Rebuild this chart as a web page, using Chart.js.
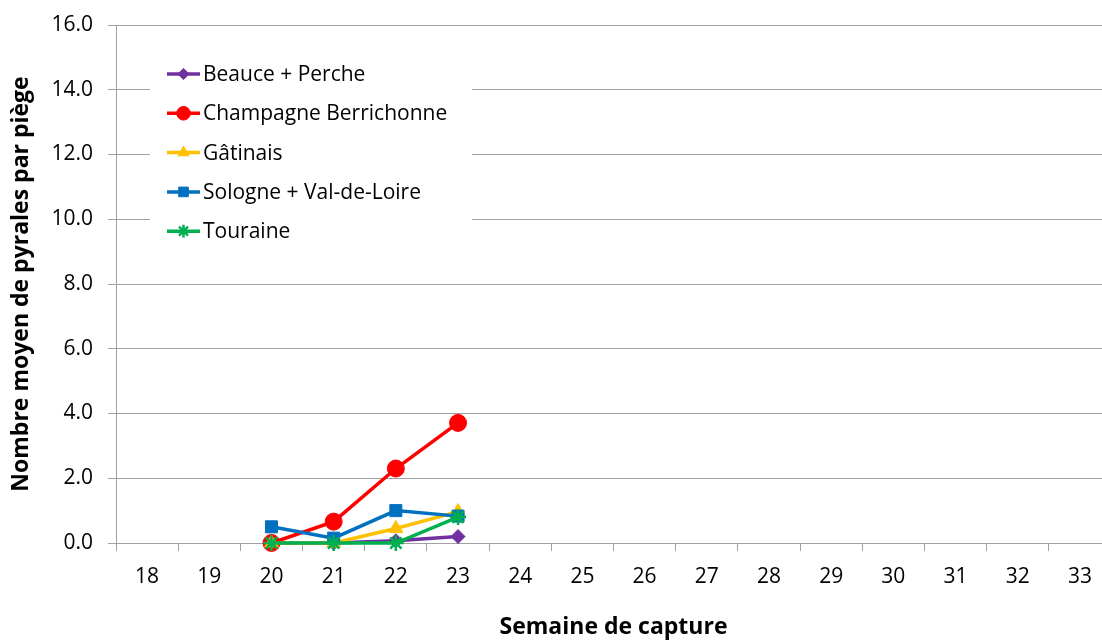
<!DOCTYPE html>
<html>
<head>
<meta charset="utf-8">
<script src="https://cdn.jsdelivr.net/npm/chart.js@4.4.0/dist/chart.umd.min.js"></script>
<style>
	html, body { margin: 0; padding: 0; background: #fff; overflow: hidden; }
	#wrap { width: 1112px; height: 644px; }
</style>
</head>
<body>
<div id="wrap"><canvas id="myChart" width="1112" height="644" style="width:1112px;height:644px"></canvas></div>
<script>
	// semaines de capture
	var semaines = ["18", "19", "20", "21", "22", "23", "24", "25", "26", "27", "28", "29", "30", "31", "32", "33"];
	var yTicks = [0, 2, 4, 6, 8, 10, 12, 14, 16];

	// nombre moyen de pyrales par piège (null = pas encore de relevé)
	var beauce    = [null, null, 0, 0, 0.07, 0.2];
	var champagne = [null, null, 0, 0.66, 2.3, 3.71];
	var gatinais  = [null, null, 0, 0, 0.45, 0.97];
	var sologne   = [null, null, 0.5, 0.15, 1.0, 0.83];
	var touraine  = [null, null, 0, 0, 0, 0.8];

	var noms = ["Beauce + Perche", "Champagne Berrichonne", "Gâtinais", "Sologne + Val-de-Loire", "Touraine"];
	var couleurs = ["#7030A0", "#FF0000", "#FFC000", "#0070C0", "#00B050"];
	var marqueurs = ["rectRot", "circle", "triangle", "rect", "star"];
	var tailles = [7, 8.5, 8, 8.5, 8];
	var series = [beauce, champagne, gatinais, sologne, touraine];

	var police = "'Open Sans', 'DejaVu Sans', sans-serif";

	var datasets = series.map(function(valeurs, i){
		return {
			label: noms[i],
			data: valeurs,
			borderColor: couleurs[i],
			backgroundColor: couleurs[i],
			pointBackgroundColor: couleurs[i],
			pointBorderColor: couleurs[i],
			pointStyle: marqueurs[i],
			pointRadius: tailles[i],
			pointBorderWidth: marqueurs[i] == "star" ? 2.5 : 1,
			borderWidth: 3.5,
			tension: 0,
			clip: false,
			spanGaps: false,
			order: 5 - i
		};
	});

	// legende dessinee dans la zone du graphique
	var legendeInterne = {
		id: 'legendeInterne',
		afterDatasetsDraw: function(chart){
			var c = chart.ctx;
			c.save();
			c.fillStyle = "#fff";
			c.fillRect(150, 55, 322, 193);
			c.font = "21px " + police;
			c.textBaseline = "middle";
			for (var i = 0; i < noms.length; i++) {
				var y = 74 + i * 39.3;
				c.strokeStyle = couleurs[i];
				c.lineWidth = 3.5;
				c.beginPath();
				c.moveTo(167, y);
				c.lineTo(200, y);
				c.stroke();
				c.fillStyle = couleurs[i];
				c.lineWidth = marqueurs[i] == "star" ? 2.5 : 1;
				Chart.helpers.drawPoint(c, {pointStyle: marqueurs[i], radius: tailles[i] * 0.8, borderWidth: c.lineWidth}, 183.5, y);
				c.fillStyle = "#000";
				c.fillText(noms[i], 203, y + 1);
			}
			c.restore();
		}
	};

	var ctx = document.getElementById("myChart");
	var myChart = new Chart(ctx, {
		type: 'line',
		data: {
			labels: semaines,
			datasets: datasets
		},
		plugins: [legendeInterne],
		options: {
			responsive: false,
			animation: false,
			layout: { autoPadding: false, padding: { top: 25, left: 0, right: 1, bottom: 0 } },
			plugins: {
				legend: { display: false },
				tooltip: { enabled: false }
			},
			scales: {
				x: {
					offset: true,
					afterFit: function(s){ s.height = 101; },
					grid: { offset: true, drawOnChartArea: false, tickLength: 8, color: "#A0A0A0", tickColor: "#A0A0A0" },
					border: { color: "#A0A0A0", width: 1 },
					ticks: { color: "#000", padding: 13, font: { family: police, size: 21 }, maxRotation: 0 },
					title: {
						display: true,
						text: "Semaine de capture",
						color: "#000",
						font: { family: police, size: 23, weight: 'bold' },
						padding: { top: 0, bottom: 3 }
					}
				},
				y: {
					min: 0,
					max: 16,
					afterFit: function(s){ s.width = 116; },
					afterBuildTicks: function(s){ s.ticks = yTicks.map(function(v){ return {value: v}; }); },
					grid: { color: "#A0A0A0", tickColor: "#A0A0A0", tickLength: 8 },
					border: { color: "#A0A0A0", width: 1 },
					ticks: {
						color: "#000",
						padding: 15,
						font: { family: police, size: 21, lineHeight: 0.9 },
						callback: function(v){ return v.toFixed(1); }
					},
					title: {
						display: true,
						text: "Nombre moyen de pyrales par piège",
						color: "#000",
						font: { family: police, size: 23, weight: 'bold' },
						padding: { top: 8, bottom: 0 }
					}
				}
			}
		}
	});
</script>
</body>
</html>
